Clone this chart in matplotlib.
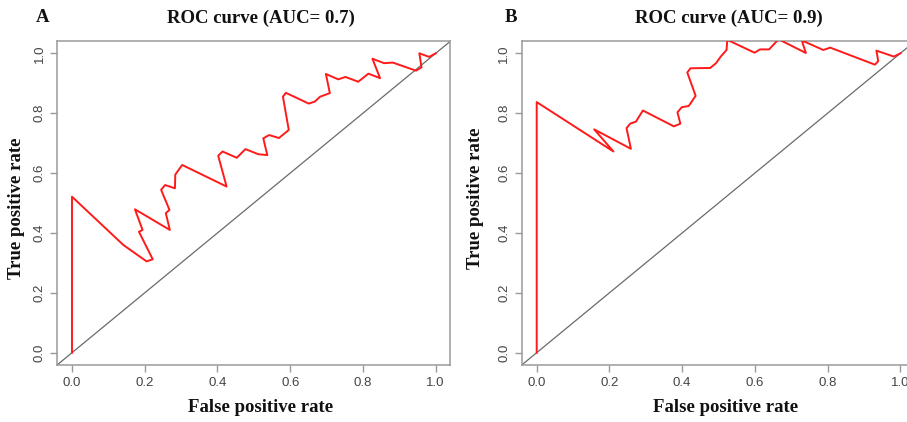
import matplotlib
matplotlib.use("Agg")
import matplotlib.pyplot as plt

# ---- data ----
fpr_a = [0.0, 0.0, 0.141, 0.205, 0.222, 0.184, 0.194, 0.173, 0.269, 0.258, 0.268,
         0.245, 0.256, 0.283, 0.284, 0.303, 0.425, 0.402, 0.414, 0.453, 0.477,
         0.512, 0.537, 0.526, 0.542, 0.569, 0.596, 0.580, 0.588, 0.651, 0.668,
         0.682, 0.709, 0.698, 0.732, 0.752, 0.787, 0.815, 0.847, 0.826, 0.858,
         0.882, 0.946, 0.961, 0.955, 0.982, 1.0]
tpr_a = [0.0, 0.521, 0.360, 0.305, 0.312, 0.404, 0.410, 0.479, 0.410, 0.466, 0.477,
         0.544, 0.560, 0.549, 0.595, 0.627, 0.555, 0.658, 0.672, 0.651, 0.680,
         0.663, 0.660, 0.716, 0.727, 0.717, 0.744, 0.855, 0.868, 0.832, 0.839,
         0.855, 0.867, 0.931, 0.913, 0.921, 0.905, 0.932, 0.917, 0.982, 0.967,
         0.969, 0.942, 0.953, 1.0, 0.988, 1.0]

fpr_b = [0.0, 0.0, 0.211, 0.158, 0.259, 0.247, 0.257, 0.273, 0.292, 0.377, 0.395,
         0.387, 0.399, 0.418, 0.437, 0.414, 0.423, 0.477, 0.493, 0.506, 0.522,
         0.524, 0.599, 0.614, 0.639, 0.665, 0.740, 0.729, 0.788, 0.807, 0.930,
         0.939, 0.934, 0.982, 1.0]
tpr_b = [0.0, 0.837, 0.672, 0.746, 0.681, 0.750, 0.765, 0.772, 0.809, 0.756, 0.765,
         0.803, 0.820, 0.824, 0.858, 0.936, 0.950, 0.951, 0.967, 0.989, 1.011,
         1.045, 1.002, 1.013, 1.013, 1.047, 1.001, 1.043, 1.011, 1.019, 0.962,
         0.974, 1.009, 0.989, 1.0]

panel_letters = ["A", "B"]
titles = ["ROC curve (AUC= 0.7)", "ROC curve (AUC= 0.9)"]
xlabel = "False positive rate"
ylabel = "True positive rate"
ticks = [0.0, 0.2, 0.4, 0.6, 0.8, 1.0]
tick_labels = ["0.0", "0.2", "0.4", "0.6", "0.8", "1.0"]

W, H = 907, 422
fig = plt.figure(figsize=(W / 100, H / 100), dpi=100)
fig.patch.set_facecolor("white")

serif = ["Liberation Serif", "DejaVu Serif"]
sans = ["Liberation Sans", "DejaVu Sans"]

# pixel geometry
xscale = 363.7
yscale = 299.4
y0px = 352.7
x0px = [72.0, 536.7]

def add_panel(i, fpr, tpr):
    left = x0px[i] - 0.04 * xscale
    right = x0px[i] + 1.04 * xscale
    top = y0px - 1.04 * yscale
    bottom = y0px + 0.04 * yscale
    ax = fig.add_axes([left / W, 1 - bottom / H, (right - left) / W, (bottom - top) / H])
    ax.set_xlim(-0.04, 1.04)
    ax.set_ylim(-0.04, 1.04)
    ax.plot([-0.04, 1.04], [-0.04, 1.04], color="#6a6a6a", lw=0.9, zorder=2)
    ax.plot(fpr, tpr, color="#ff1a1a", lw=1.4, zorder=3)
    for s in ax.spines.values():
        s.set_color("#9a9a9a")
        s.set_linewidth(1.1)
    ax.set_xticks(ticks)
    ax.set_xticklabels(tick_labels, fontfamily=sans, fontsize=9.5, color="#444444")
    ax.set_yticks(ticks)
    ax.set_yticklabels(tick_labels, fontfamily=sans, fontsize=9.5, color="#444444",
                       rotation=90, va="center")
    ax.tick_params(axis="both", direction="out", length=5, width=1, color="#9a9a9a")
    ax.tick_params(axis="x", pad=4)
    ax.tick_params(axis="y", pad=3.5)
    return ax

axA = add_panel(0, fpr_a, tpr_a)
axB = add_panel(1, fpr_b, tpr_b)

def ftext(xp, yp, s, **kw):
    fig.text(xp / W, 1 - yp / H, s, **kw)

tfont = dict(fontfamily=serif, fontweight="bold", fontsize=13.5, color="#111111")
ftext(36, 18, panel_letters[0], ha="left", va="center", **tfont)
ftext(505, 18, panel_letters[1], ha="left", va="center", **tfont)
ftext(261, 18, titles[0], ha="center", va="center", **tfont)
ftext(729, 18, titles[1], ha="center", va="center", **tfont)
ftext(261, 408, xlabel, ha="center", va="center", **tfont)
ftext(726, 408, xlabel, ha="center", va="center", **tfont)
ftext(17, 208, ylabel, ha="center", va="center", rotation=90, **tfont)
ftext(476, 198, ylabel, ha="center", va="center", rotation=90, **tfont)

fig.savefig("out.png", dpi=100, facecolor="white")
